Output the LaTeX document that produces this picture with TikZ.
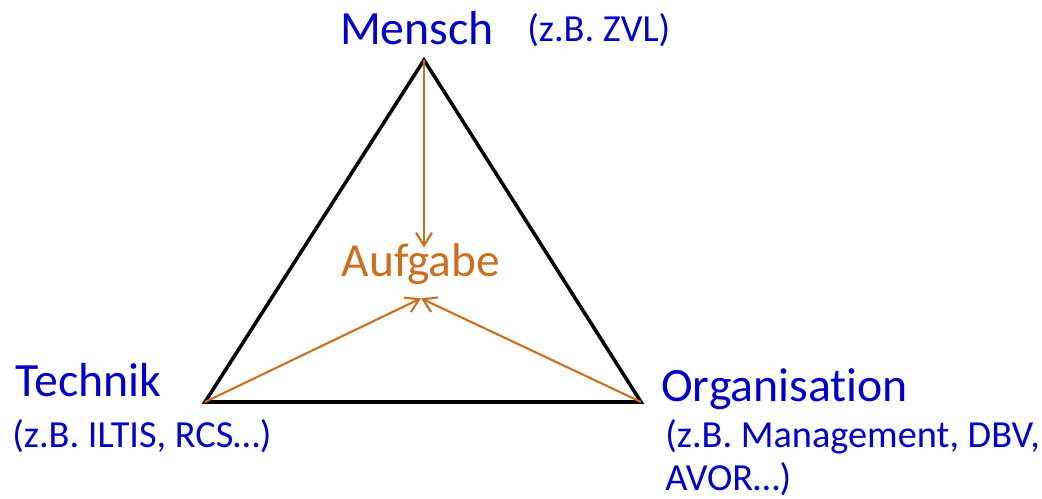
\documentclass[tikz,border=0pt]{standalone}
\usepackage{fontspec}
\setmainfont{Carlito}[Ligatures=NoCommon]
\usepackage{tikz}
\usetikzlibrary{positioning, arrows.meta}
\definecolor{mblue}{RGB}{0,0,200}
\definecolor{aorange}{RGB}{204,112,32}
\tikzset{
  ecke/.style={font=\fontsize{27.2}{31}\selectfont, text=mblue, inner sep=0pt},
  beispiel/.style={font=\fontsize{21.8}{26}\selectfont, text=mblue, inner sep=0pt, align=left},
  aufgabebox/.style={font=\fontsize{27}{31}\selectfont, text=aorange, inner sep=0pt, text height=0.58cm, text depth=0.42cm},
  seite/.style={line width=2pt, black, line join=miter},
  pfeil/.style={line width=1.2pt, aorange, -{Straight Barb[length=2.6mm, width=3.2mm]}}
}

\begin{document}
\begin{tikzpicture}[x=0.02cm, y=-0.02cm]

    % Rahmen
    \useasboundingbox (0,0) rectangle (1042,499);

    % Ecken des Dreiecks
    \coordinate (M) at (424,60);
    \coordinate (T) at (205,402);
    \coordinate (O) at (641,402);

    % Dreieck
    \draw[seite] (M) -- (T) -- (O) -- cycle;

    % Aufgabe in der Mitte
    \node[aufgabebox, anchor=base] (aufgabe) at (421,277) {Aufgabe};

    % Pfeile zur Aufgabe
    \draw[pfeil] (M) -- (aufgabe.north -| M);
    \draw[pfeil] (T) -- (aufgabe.south);
    \draw[pfeil] (O) -- (aufgabe.south);

    % Beschriftungen
    \node[ecke, anchor=base] (mensch) at (417,45) {Mensch};
    \node[beispiel, anchor=base west] (zvl) at (527,42) {(z.B. ZVL)};

    \node[ecke, anchor=base west] (technik) at (15,397) {Technik};
    \node[beispiel, anchor=base west] (iltis) at (12,448) {(z.B. ILTIS, RCS…)};

    \node[ecke, anchor=base west] (organisation) at (661,402) {Organisation};
    \node[beispiel, anchor=base west] (mgmt) at (665,448) {(z.B. Management, DBV,};
    \node[beispiel, anchor=base west] (avor) at (665,491) {AVOR…)};

\end{tikzpicture}
\end{document}
